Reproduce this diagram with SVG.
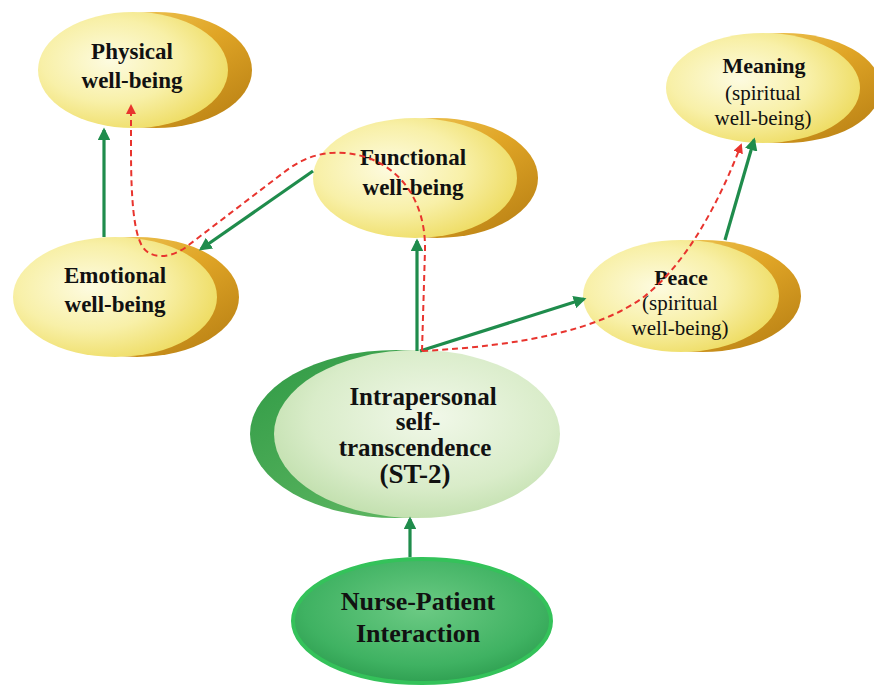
<svg xmlns="http://www.w3.org/2000/svg" width="874" height="688" viewBox="0 0 874 688">
  <style>
    .lbl { font-family: "Liberation Serif", "Times New Roman", serif; font-weight: bold; fill: #111; text-anchor: middle; }
    .sub { font-family: "Liberation Serif", "Times New Roman", serif; font-weight: normal; fill: #111; text-anchor: middle; }
    .flow { stroke: #1f8c4c; stroke-width: 3.2; fill: none; marker-end: url(#gArrow); }
    .path { stroke: #e8342e; stroke-width: 2; stroke-dasharray: 6 4; fill: none; marker-end: url(#rArrow); }
  </style>
  <defs>
    <radialGradient id="yellowFill" cx="0.38" cy="0.42" r="0.65">
      <stop offset="0" stop-color="#fdfbe0"/>
      <stop offset="0.55" stop-color="#f8f0a8"/>
      <stop offset="1" stop-color="#eedc62"/>
    </radialGradient>
    <linearGradient id="goldFill" x1="0" y1="0" x2="1" y2="1">
      <stop offset="0" stop-color="#f3d36a"/>
      <stop offset="0.5" stop-color="#e0a526"/>
      <stop offset="1" stop-color="#b47c12"/>
    </linearGradient>
    <radialGradient id="paleGreen" cx="0.55" cy="0.4" r="0.7">
      <stop offset="0" stop-color="#f1f8e9"/>
      <stop offset="0.6" stop-color="#d9ecc9"/>
      <stop offset="1" stop-color="#b9dba4"/>
    </radialGradient>
    <linearGradient id="darkGreen" x1="0" y1="0" x2="1" y2="1">
      <stop offset="0" stop-color="#2f9a45"/>
      <stop offset="1" stop-color="#6cbf6a"/>
    </linearGradient>
    <radialGradient id="nurseFill" cx="0.5" cy="0.4" r="0.65">
      <stop offset="0" stop-color="#6cca84"/>
      <stop offset="0.7" stop-color="#3fb262"/>
      <stop offset="1" stop-color="#2a9a4c"/>
    </radialGradient>
    <marker id="gArrow" viewBox="0 0 10 10" refX="8" refY="5" markerWidth="4" markerHeight="4" orient="auto" markerUnits="strokeWidth">
      <path d="M0 0 L10 5 L0 10 z" fill="#1f8c4c"/>
    </marker>
    <marker id="rArrow" viewBox="0 0 10 10" refX="8" refY="5" markerWidth="5" markerHeight="5" orient="auto" markerUnits="strokeWidth">
      <path d="M0 0 L10 5 L0 10 z" fill="#e8342e"/>
    </marker>
  </defs>

  <rect width="874" height="688" fill="#ffffff"/>

  <!-- Yellow outcome nodes: gold crescent behind, pale yellow face in front -->
  <g id="physical">
    <ellipse cx="156" cy="70" rx="96" ry="58" fill="url(#goldFill)"/>
    <ellipse cx="133" cy="70" rx="95" ry="58" fill="url(#yellowFill)"/>
    <text class="lbl" x="132" y="59" font-size="23">Physical</text>
    <text class="lbl" x="132" y="88" font-size="23">well-being</text>
  </g>

  <g id="functional">
    <ellipse cx="437" cy="178" rx="101" ry="60" fill="url(#goldFill)"/>
    <ellipse cx="415" cy="178" rx="102" ry="60" fill="url(#yellowFill)"/>
    <text class="lbl" x="413" y="165" font-size="23">Functional</text>
    <text class="lbl" x="413" y="195" font-size="23">well-being</text>
  </g>

  <g id="meaning">
    <ellipse cx="784" cy="88" rx="97" ry="55" fill="url(#goldFill)"/>
    <ellipse cx="763" cy="88" rx="97" ry="55" fill="url(#yellowFill)"/>
    <text class="lbl" x="764" y="73" font-size="22">Meaning</text>
    <text class="sub" x="763" y="100" font-size="21">(spiritual</text>
    <text class="sub" x="763" y="125" font-size="21">well-being)</text>
  </g>

  <g id="peace">
    <ellipse cx="703" cy="296" rx="98" ry="56" fill="url(#goldFill)"/>
    <ellipse cx="681" cy="296" rx="98" ry="56" fill="url(#yellowFill)"/>
    <text class="lbl" x="681" y="285" font-size="22">Peace</text>
    <text class="sub" x="680" y="310" font-size="21">(spiritual</text>
    <text class="sub" x="680" y="335" font-size="21">well-being)</text>
  </g>

  <g id="emotional">
    <ellipse cx="137" cy="297" rx="102" ry="60" fill="url(#goldFill)"/>
    <ellipse cx="115" cy="297" rx="102" ry="60" fill="url(#yellowFill)"/>
    <text class="lbl" x="115" y="283" font-size="23">Emotional</text>
    <text class="lbl" x="115" y="312" font-size="23">well-being</text>
  </g>

  <!-- Central self-transcendence node: dark green crescent on the left -->
  <g id="intrapersonal">
    <ellipse cx="396" cy="434" rx="146" ry="84" fill="url(#darkGreen)"/>
    <ellipse cx="417" cy="434" rx="143" ry="84" fill="url(#paleGreen)"/>
    <text class="lbl" x="423" y="405" font-size="25">Intrapersonal</text>
    <text class="lbl" x="418" y="430" font-size="25">self-</text>
    <text class="lbl" x="415" y="456" font-size="25">transcendence</text>
    <text class="lbl" x="415" y="483" font-size="27">(ST-2)</text>
  </g>

  <g id="nurse-patient">
    <ellipse cx="422" cy="621" rx="129" ry="62" fill="url(#nurseFill)" stroke="#34c25a" stroke-width="4"/>
    <text class="lbl" x="418" y="610" font-size="26">Nurse-Patient</text>
    <text class="lbl" x="418" y="642" font-size="26">Interaction</text>
  </g>

  <g id="connectors">
    <!-- solid green influences -->
    <line class="flow" x1="104" y1="237" x2="104" y2="130"/>
    <line class="flow" x1="313" y1="171" x2="201" y2="249"/>
    <line class="flow" x1="417" y1="351" x2="417" y2="241"/>
    <line class="flow" x1="420" y1="351" x2="584" y2="299"/>
    <line class="flow" x1="725" y1="240" x2="754" y2="140"/>
    <line class="flow" x1="410" y1="557" x2="410" y2="519"/>
    <!-- dashed red pathways -->
    <path class="path" d="M422 351 L425 250 C426 200 398 158 345 153 C318 151 300 160 283 173 L190 244 C174 258 150 262 141 244 C134 230 131 200 131 150 L131 106"/>
    <path class="path" d="M422 351 C520 346 600 330 645 296 C688 262 720 200 741 145"/>
  </g>
</svg>
